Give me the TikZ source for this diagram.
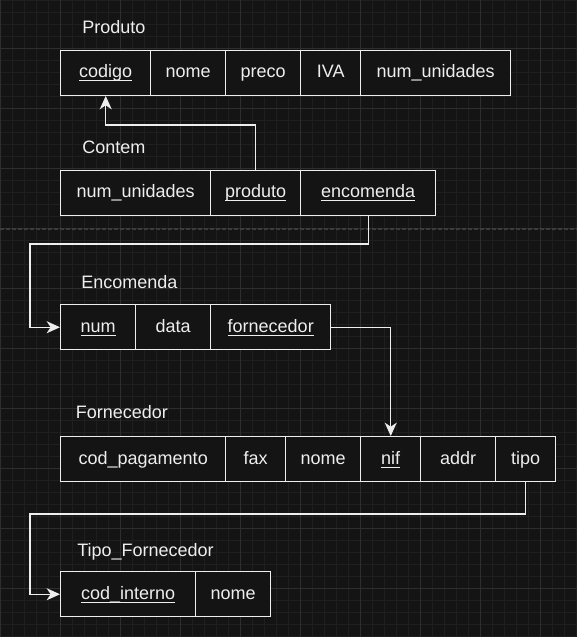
\documentclass[tikz,border=0pt]{standalone}
\usepackage{fontspec}
\setmainfont{Liberation Sans}
\usetikzlibrary{arrows.meta}

\definecolor{fundo}{HTML}{141414}
\definecolor{grelha}{HTML}{1F1F1F}
\definecolor{grelhaforte}{HTML}{2E2E2E}
\definecolor{pagina}{HTML}{3C3C3C}
\definecolor{traco}{HTML}{EEEEEE}

% chave sublinhada, traco fixo abaixo da linha de base
\newcommand{\chave}[1]{\makebox[0pt][l]{\rule[-2.6pt]{\widthof{#1}}{0.8pt}}#1}
\usepackage{calc}

\tikzset{
  celula/.style={draw=traco, fill=fundo, line width=1.1pt, anchor=north west,
    minimum height=33.75pt, inner sep=0pt, text=traco,
    text height=10pt, text depth=2.5pt},
  titulo/.style={anchor=base west, inner sep=0pt, text=traco},
  fk/.style={draw=traco, line width=1.1pt,
    -{Stealth[length=10pt, width=9pt, inset=3pt]}}
}

\begin{document}
\begin{tikzpicture}[x=0.75pt, y=-0.75pt, font=\fontsize{13.5}{16}\selectfont]
  \useasboundingbox (0,0) rectangle (577,637);
  \fill[fundo] (0,0) rectangle (577,637);
  % grelha de fundo
  \foreach \gx in {0,12,...,576} {
    \draw[grelha, line width=0.75pt] (\gx,0) -- (\gx,637);
  }
  \foreach \gy in {0,12,...,636} {
    \draw[grelha, line width=0.75pt] (0,\gy) -- (577,\gy);
  }
  \foreach \gx in {0,60,...,540} {
    \draw[grelhaforte, line width=0.75pt] (\gx,0) -- (\gx,637);
  }
  \foreach \gy in {48,108,...,588} {
    \draw[grelhaforte, line width=0.75pt] (0,\gy) -- (577,\gy);
  }
  \draw[pagina, line width=1.2pt, dash pattern=on 3pt off 1.5pt] (0,229) -- (577,229);

  % titulos das tabelas
  \node[titulo] (tit-prod) at (82,33.2) {Produto};
  \node[titulo] (tit-cont) at (82,153.2) {Contem};
  \node[titulo] (tit-enc) at (81,288.2) {Encomenda};
  \node[titulo] (tit-forn) at (75.5,418.2) {Fornecedor};
  \node[titulo] (tit-tipo) at (77,556) {Tipo\_Fornecedor};

  % tabelas
  \foreach \nm/\txt/\x/\w in {codigo/\chave{codigo}/60/90, nome/nome/150/75,
      preco/preco/225/75, iva/IVA/300/60, unid/num\_unidades/360/150} {
    \node[celula, minimum width=\w*0.75pt] (prod-\nm) at (\x,49.5) {\txt};
  }
  \foreach \nm/\txt/\x/\w in {unid/num\_unidades/60/150,
      produto/\chave{produto}/210/90, encomenda/\chave{encomenda}/300/135} {
    \node[celula, minimum width=\w*0.75pt] (cont-\nm) at (\x,169.5) {\txt};
  }
  \foreach \nm/\txt/\x/\w in {num/\chave{num}/60/75, data/data/135/75,
      fornecedor/\chave{fornecedor}/210/120} {
    \node[celula, minimum width=\w*0.75pt] (enc-\nm) at (\x,304) {\txt};
  }
  \foreach \nm/\txt/\x/\w in {cod/cod\_pagamento/60/165, fax/fax/225/60,
      nome/nome/285/75, nif/\chave{nif}/360/60, addr/addr/420/75,
      tipo/tipo/495/60} {
    \node[celula, minimum width=\w*0.75pt] (forn-\nm) at (\x,436) {\txt};
  }
  \foreach \nm/\txt/\x/\w in {cod/\chave{cod\_interno}/60/135, nome/nome/195/75} {
    \node[celula, minimum width=\w*0.75pt] (tipo-\nm) at (\x,571) {\txt};
  }

  % chaves estrangeiras
  \coordinate (volta-prod) at (0,125);
  \coordinate (volta-enc) at (30,244);
  \coordinate (volta-tipo) at (30,514);
  \draw[fk] (cont-produto.north) -- (cont-produto.north |- volta-prod) -| (prod-codigo.south);
  \draw[fk] (cont-encomenda.south) |- (volta-enc) |- (enc-num.west);
  \draw[fk] (enc-fornecedor.east) -| (forn-nif.north);
  \draw[fk] (forn-tipo.south) |- (volta-tipo) |- (tipo-cod.west);
\end{tikzpicture}
\end{document}
